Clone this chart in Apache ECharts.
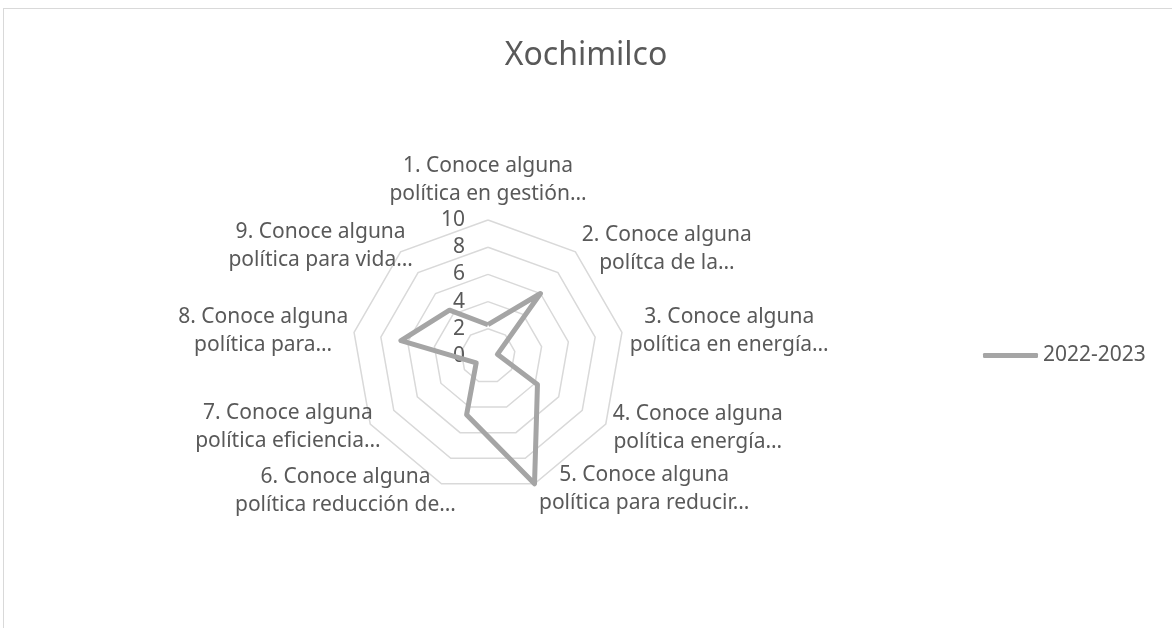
<!DOCTYPE html>
<html>
<head>
<meta charset="utf-8">
<script src="https://cdn.jsdelivr.net/npm/echarts@6/dist/echarts.min.js"></script>
<style>
  html, body { margin: 0; padding: 0; background: #fff; }
  #frame { position: absolute; left: 3px; top: 8px; width: 1200px; height: 700px; border: 1px solid #d9d9d9; box-sizing: border-box; }
  #chart { position: absolute; left: 0; top: 0; width: 1172px; height: 628px; }
</style>
</head>
<body>
<div id="frame"></div>
<div id="chart"></div>
<script>
var titleText = 'Xochimilco';
var seriesName = '2022-2023';
var categories = [
  '1. Conoce alguna\npolítica en gestión…',
  '2. Conoce alguna\npolítca de la…',
  '3. Conoce alguna\npolítica en energía…',
  '4. Conoce alguna\npolítica energía…',
  '5. Conoce alguna\npolítica para reducir…',
  '6. Conoce alguna\npolítica reducción de…',
  '7. Conoce alguna\npolítica eficiencia…',
  '8. Conoce alguna\npolítica para…',
  '9. Conoce alguna\npolítica para vida…'
];
var values = [2.3, 6, 0.7, 4.2, 10, 4.6, 1, 6.5, 4.4];
var axisMin = 0;
var axisMax = 10;
var axisStep = 2;

var textColor = '#595959';
var font = '"Noto Sans", sans-serif';

// label placement tweaks so the names sit roughly where excel puts them
var nameGaps = [12, 10, 8, 8, 13, -42, -12, 6, -19];
var namePads = [
  [0, 0, 0, 0], [9, 0, 0, 0], [0, 0, 0, 0], [0, 0, 0, 0], [0, 0, 14, 0],
  [94, 0, 0, 0], [19, 0, 0, 0], [0, 0, 0, 0], [0, 0, 41, 0]
];

// echarts lays radar axes counter-clockwise, excel goes clockwise
var order = [0];
for (var i = categories.length - 1; i > 0; i--) order.push(i);

var indicators = order.map(function (idx, k) {
  var ind = {
    name: categories[idx], min: axisMin, max: axisMax,
    nameGap: nameGaps[idx],
    nameTextStyle: { padding: namePads[idx] }
  };
  if (k === 0) {
    ind.axisLabel = {
      show: true, color: textColor, fontSize: 21, fontFamily: font, margin: 23
    };
  }
  return ind;
});

var chart = echarts.init(document.getElementById('chart'));
chart.setOption({
  animation: false,
  title: {
    text: titleText,
    left: 'center',
    top: 35,
    textStyle: { color: textColor, fontSize: 32, fontWeight: 'normal', fontFamily: font }
  },
  legend: {
    data: [seriesName],
    left: 978,
    top: 340,
    icon: 'roundRect',
    itemWidth: 55,
    itemHeight: 5,
    itemGap: 5,
    textStyle: { color: textColor, fontSize: 21, fontFamily: font }
  },
  radar: {
    center: [488, 356],
    radius: 136,
    startAngle: 90,
    shape: 'polygon',
    splitNumber: (axisMax - axisMin) / axisStep,
    indicator: indicators,
    axisName: {
      color: textColor,
      fontSize: 21,
      fontFamily: font,
      lineHeight: 28,
      formatter: function (name) {
        return name.split('\n').map(function (s) { return '{c|' + s + '}'; }).join('\n');
      },
      rich: {
        c: { align: 'center', color: textColor, fontSize: 21, fontFamily: font, lineHeight: 28 }
      }
    },
    axisNameGap: 10,
    axisLine: { show: false },
    axisTick: { show: false },
    axisLabel: { show: false },
    splitLine: { lineStyle: { color: '#d9d9d9', width: 1.5 } },
    splitArea: { show: false }
  },
  series: [{
    name: seriesName,
    type: 'radar',
    symbol: 'none',
    lineStyle: { color: '#a5a5a5', width: 5 },
    itemStyle: { color: '#a5a5a5' },
    data: [{ name: seriesName, value: order.map(function (idx) { return values[idx]; }) }]
  }]
});
</script>
</body>
</html>
